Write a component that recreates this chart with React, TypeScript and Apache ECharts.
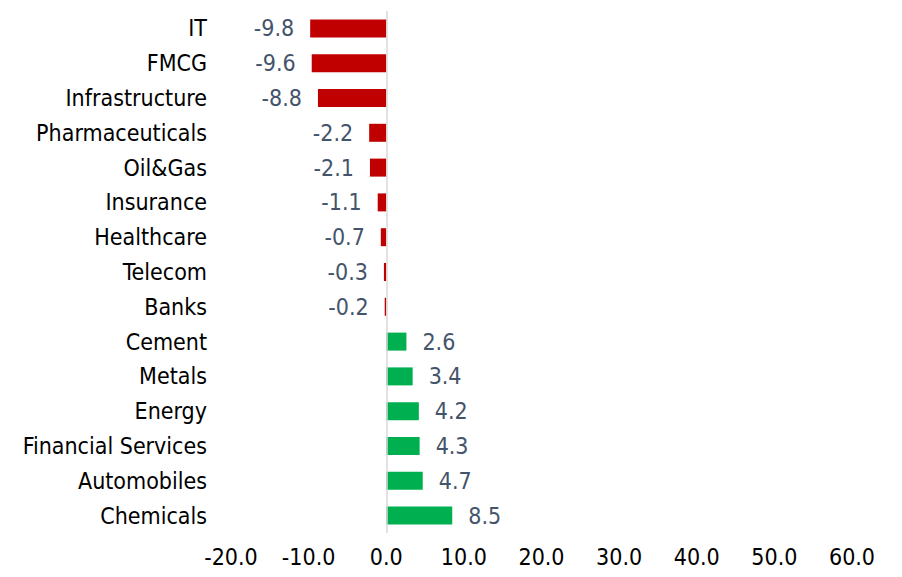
import React, { useEffect, useRef } from "react";
import * as echarts from "echarts";

const categories = [
  "IT",
  "FMCG",
  "Infrastructure",
  "Pharmaceuticals",
  "Oil&Gas",
  "Insurance",
  "Healthcare",
  "Telecom",
  "Banks",
  "Cement",
  "Metals",
  "Energy",
  "Financial Services",
  "Automobiles",
  "Chemicals",
];
const values = [-9.8, -9.6, -8.8, -2.2, -2.1, -1.1, -0.7, -0.3, -0.2, 2.6, 3.4, 4.2, 4.3, 4.7, 8.5];
const xMin = -20;
const xMax = 60;
const xInterval = 10;

const NEG = "#C00000";
const POS = "#00B050";
const FONT = "'DejaVu Sans Condensed', 'DejaVu Sans', sans-serif";

export default function App() {
  const ref = useRef<HTMLDivElement>(null);
  useEffect(() => {
    if (!ref.current) return;
    const chart = echarts.init(ref.current, undefined, { renderer: "svg" });
    chart.setOption({
      animation: false,
      grid: { left: 231, right: 50, top: 11, bottom: 44, containLabel: false },
      xAxis: {
        type: "value",
        min: xMin,
        max: xMax,
        interval: xInterval,
        axisLine: { show: false },
        axisTick: { show: false },
        splitLine: { show: false },
        axisLabel: {
          margin: 12,
          color: "#000",
          fontFamily: FONT,
          fontSize: 23,
          formatter: (v: number) => v.toFixed(1),
        },
      },
      yAxis: {
        type: "category",
        data: categories,
        inverse: true,
        axisLine: { show: false, onZero: false },
        axisTick: { show: false },
        splitLine: { show: false },
        axisLabel: {
          margin: 24,
          color: "#000",
          fontFamily: FONT,
          fontSize: 23,
        },
      },
      series: [
        {
          type: "bar",
          barWidth: 18,
          data: values.map((v) => ({
            value: v,
            itemStyle: { color: v < 0 ? NEG : POS },
            label: { position: v < 0 ? "left" : "right" },
          })),
          label: {
            show: true,
            distance: 16,
            color: "#44546A",
            fontFamily: FONT,
            fontSize: 23,
            formatter: (p: any) => Number(p.value).toFixed(1),
          },
          markLine: {
            silent: true,
            symbol: ["none", "none"],
            label: { show: false },
            lineStyle: { color: "#D9D9D9", type: "solid", width: 1.5 },
            data: [{ xAxis: 0 }],
          },
        },
      ],
    });
    return () => chart.dispose();
  }, []);
  return (
    <div
      ref={ref}
      style={{ position: "fixed", left: 0, top: 0, width: 902, height: 577, background: "#fff" }}
    />
  );
}
